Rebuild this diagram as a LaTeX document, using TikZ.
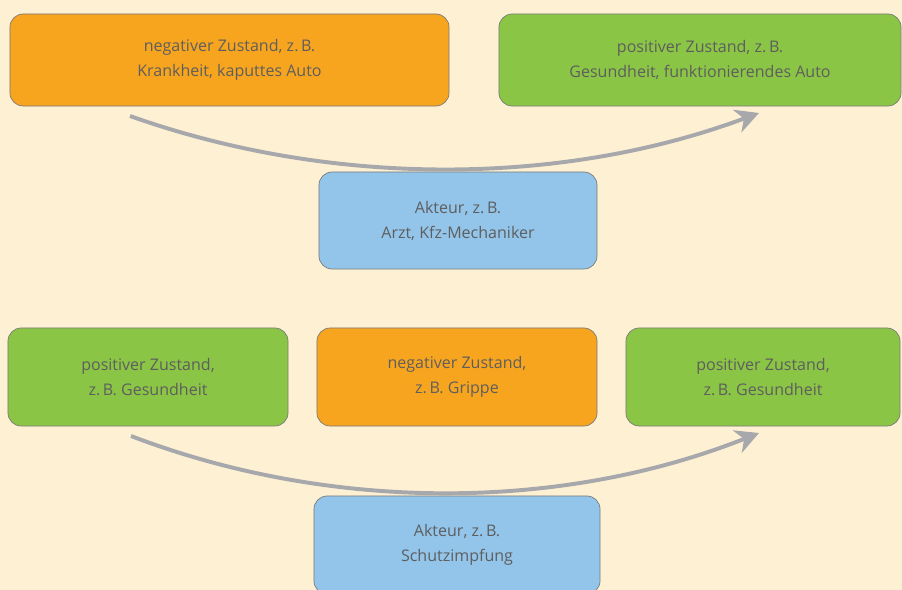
\documentclass[tikz,border=0pt]{standalone}
\usepackage{fontspec}
\setmainfont{Open Sans}
\usetikzlibrary{arrows.meta}
\definecolor{bgcream}{HTML}{FEF0D3}
\definecolor{negorange}{HTML}{F7A51E}
\definecolor{posgreen}{HTML}{8BC546}
\definecolor{aktblue}{HTML}{93C5EA}
\definecolor{arrowgray}{HTML}{A7A8AB}
\definecolor{textgray}{HTML}{5E5E5E}
\definecolor{framegray}{HTML}{7A7A7A}
\begin{document}
\begin{tikzpicture}[x=0.025cm, y=-0.025cm,
		box/.style={draw=framegray, line width=0.5pt, rounded corners=0.33cm, inner sep=0pt,
			align=center, text=textgray, font=\fontsize{11.4}{17.8}\selectfont},
		negbox/.style={box, fill=negorange},
		posbox/.style={box, fill=posgreen},
		aktbox/.style={box, fill=aktblue},
		flow/.style={draw=arrowgray, line width=2.8pt,
			-{Stealth[length=0.58cm, width=0.6cm, inset=0.18cm]}}]
		\clip (0,0) rectangle (902,590);
		\fill[bgcream] (0,0) rectangle (902,590);
		
		% oben: Zustand wird behoben
		\node[negbox, minimum width=10.975cm, minimum height=2.3cm] (neg1) at (229.5,60) {negativer Zustand, z.\,B.\\Krankheit, kaputtes Auto};
		\node[posbox, minimum width=10.05cm, minimum height=2.3cm] (pos1) at (700,60) {positiver Zustand, z.\,B.\\Gesundheit, funktionierendes Auto};
		\node[aktbox, minimum width=6.95cm, minimum height=2.425cm] (akt1) at (458,220.5) {Akteur, z.\,B.\\Arzt, Kfz-Mechaniker};
		
		\coordinate (s1) at (130,116);
		\coordinate (e1) at (759,113);
		\draw[flow] (s1) .. controls (330,187) and (560,187) .. (e1);
		
		% unten: Zustand wird verhindert
		\node[posbox, minimum width=7cm, minimum height=2.45cm] (pos2) at (148,377) {positiver Zustand,\\z.\,B. Gesundheit};
		\node[negbox, minimum width=7cm, minimum height=2.45cm] (neg2) at (457,377) {negativer Zustand,\\z.\,B. Grippe};
		\node[posbox, minimum width=6.85cm, minimum height=2.45cm] (pos3) at (763,377) {positiver Zustand,\\z.\,B. Gesundheit};
		\node[aktbox, minimum width=7.15cm, minimum height=2.45cm] (akt2) at (457,545) {Akteur, z.\,B.\\Schutzimpfung};
		
		\coordinate (s2) at (131,436);
		\coordinate (e2) at (759,433);
		\draw[flow] (s2) .. controls (330,512) and (560,512) .. (e2);
	\end{tikzpicture}
\end{document}
